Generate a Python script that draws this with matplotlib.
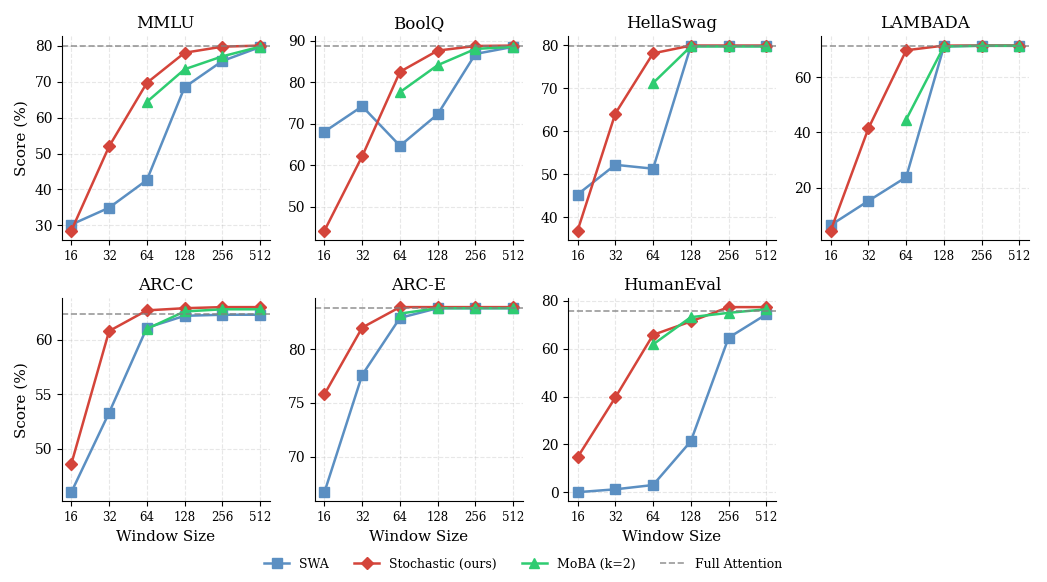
import matplotlib
matplotlib.use('Agg')
import matplotlib.pyplot as plt
import numpy as np

plt.rcParams['font.family'] = 'DejaVu Serif'

# window sizes
windows = [16, 32, 64, 128, 256, 512]
tasks = ['MMLU', 'BoolQ', 'HellaSwag', 'LAMBADA', 'ARC-C', 'ARC-E', 'HumanEval']

# scores (nan = not run)
nan = np.nan
swa = {
    'MMLU':      [30.2, 34.9, 42.6, 68.5, 75.8, 79.7],
    'BoolQ':     [68.1, 74.2, 64.7, 72.3, 86.8, 88.5],
    'HellaSwag': [45.3, 52.2, 51.3, 79.8, 79.8, 79.8],
    'LAMBADA':   [6.4, 15.2, 23.8, 71.2, 71.5, 71.5],
    'ARC-C':     [46.0, 53.3, 61.1, 62.2, 62.3, 62.3],
    'ARC-E':     [66.7, 77.6, 82.9, 83.8, 83.8, 83.8],
    'HumanEval': [0.0, 1.2, 3.0, 21.3, 64.6, 74.4],
}
stochastic = {
    'MMLU':      [28.5, 52.0, 69.7, 78.1, 79.8, 80.1],
    'BoolQ':     [44.3, 62.2, 82.5, 87.6, 88.7, 88.8],
    'HellaSwag': [36.9, 64.1, 78.1, 79.9, 79.9, 79.9],
    'LAMBADA':   [4.4, 41.5, 69.8, 71.5, 71.5, 71.5],
    'ARC-C':     [48.6, 60.8, 62.7, 62.9, 63.0, 63.0],
    'ARC-E':     [75.8, 82.0, 83.9, 83.9, 83.9, 83.9],
    'HumanEval': [14.6, 39.6, 65.8, 71.4, 77.4, 77.4],
}
moba = {
    'MMLU':      [nan, nan, 64.4, 73.5, 77.1, 79.8],
    'BoolQ':     [nan, nan, 77.6, 84.1, 88.0, 88.5],
    'HellaSwag': [nan, nan, 71.2, 79.7, 79.7, 79.7],
    'LAMBADA':   [nan, nan, 44.7, 71.2, 71.4, 71.4],
    'ARC-C':     [nan, nan, 61.0, 62.6, 62.8, 62.8],
    'ARC-E':     [nan, nan, 83.3, 83.8, 83.8, 83.8],
    'HumanEval': [nan, nan, 61.8, 73.2, 75.0, 76.5],
}
full_attention = {
    'MMLU': 80.1, 'BoolQ': 88.7, 'HellaSwag': 79.9, 'LAMBADA': 71.5,
    'ARC-C': 62.35, 'ARC-E': 83.8, 'HumanEval': 75.6,
}

c_swa = '#5b8fc2'
c_sto = '#d4443a'
c_moba = '#2ecc71'

fig, axes = plt.subplots(2, 4, figsize=(10.47, 5.82), dpi=100)
axes = axes.flatten()
x = np.log2(windows)

for i, name in enumerate(tasks):
    ax = axes[i]
    ax.plot(x, swa[name], color=c_swa, marker='s', lw=1.8, ms=6.5, label='SWA')
    ax.plot(x, stochastic[name], color=c_sto, marker='D', lw=1.8, ms=6.5, label='Stochastic (ours)')
    ax.plot(x, moba[name], color=c_moba, marker='^', lw=1.8, ms=6.5, label='MoBA (k=2)')
    ax.axhline(full_attention[name], color='gray', ls='--', lw=1.2, alpha=0.8, label='Full Attention')
    ax.set_xticks(x)
    ax.set_xticklabels([str(w) for w in windows], fontsize=8.5)
    ax.tick_params(axis='y', labelsize=10)
    ax.set_title(name, fontsize=12)
    ax.grid(True, ls='--', alpha=0.3)
    ax.spines['top'].set_visible(False)
    ax.spines['right'].set_visible(False)
    if i % 4 == 0:
        ax.set_ylabel('Score (%)', fontsize=11)
    if i >= 4:
        ax.set_xlabel('Window Size', fontsize=11)

axes[7].axis('off')

handles, labels = axes[0].get_legend_handles_labels()
fig.legend(handles, labels, loc='lower center', ncol=4, frameon=False, fontsize=9,
           bbox_to_anchor=(0.5, 0.0), columnspacing=2.0)

plt.tight_layout(rect=[0, 0.04, 1, 1], h_pad=1.0)
plt.savefig('out.png', dpi=100)
